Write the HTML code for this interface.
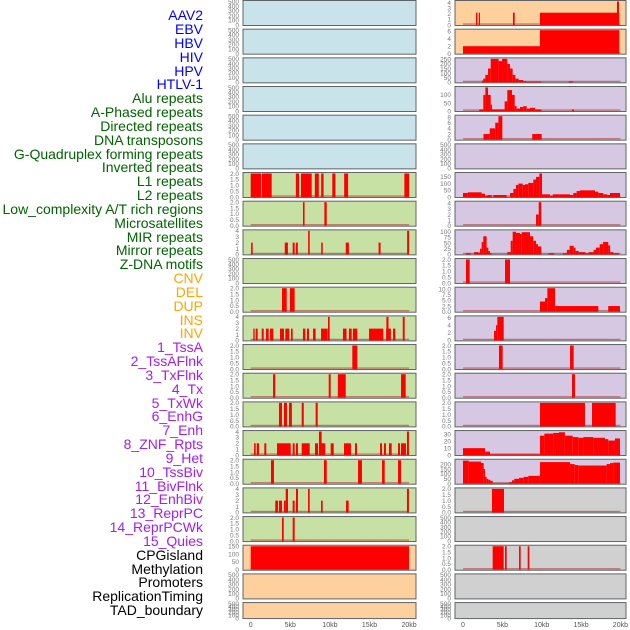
<!DOCTYPE html>
<html><head><meta charset="utf-8"><style>
html,body{margin:0;padding:0;background:#fff;}
svg{display:block;font-family:"Liberation Sans",sans-serif;}
</style></head><body>
<svg id="chart" width="630" height="630" viewBox="0 0 630 630" xmlns="http://www.w3.org/2000/svg">
<g id="labels" font-size="14" text-anchor="end">
<text x="203" y="20" fill="#0000ff">AAV2</text>
<text x="203" y="34" fill="#0000ff">EBV</text>
<text x="203" y="48" fill="#0000ff">HBV</text>
<text x="203" y="62" fill="#0000ff">HIV</text>
<text x="203" y="76" fill="#0000ff">HPV</text>
<text x="203" y="89" fill="#0000ff">HTLV-1</text>
<text x="203" y="103" fill="#006400">Alu repeats</text>
<text x="203" y="117" fill="#006400">A-Phased repeats</text>
<text x="203" y="131" fill="#006400">Directed repeats</text>
<text x="203" y="145" fill="#006400">DNA transposons</text>
<text x="203" y="159" fill="#006400">G-Quadruplex forming repeats</text>
<text x="203" y="172" fill="#006400">Inverted repeats</text>
<text x="203" y="186" fill="#006400">L1 repeats</text>
<text x="203" y="200" fill="#006400">L2 repeats</text>
<text x="203" y="214" fill="#006400">Low_complexity A/T rich regions</text>
<text x="203" y="228" fill="#006400">Microsatellites</text>
<text x="203" y="242" fill="#006400">MIR repeats</text>
<text x="203" y="255" fill="#006400">Mirror repeats</text>
<text x="203" y="269" fill="#006400">Z-DNA motifs</text>
<text x="203" y="283" fill="#ffa500">CNV</text>
<text x="203" y="297" fill="#ffa500">DEL</text>
<text x="203" y="311" fill="#ffa500">DUP</text>
<text x="203" y="325" fill="#ffa500">INS</text>
<text x="203" y="338" fill="#ffa500">INV</text>
<text x="203" y="352" fill="#a020f0">1_TssA</text>
<text x="203" y="366" fill="#a020f0">2_TssAFlnk</text>
<text x="203" y="380" fill="#a020f0">3_TxFlnk</text>
<text x="203" y="394" fill="#a020f0">4_Tx</text>
<text x="203" y="408" fill="#a020f0">5_TxWk</text>
<text x="203" y="421" fill="#a020f0">6_EnhG</text>
<text x="203" y="435" fill="#a020f0">7_Enh</text>
<text x="203" y="449" fill="#a020f0">8_ZNF_Rpts</text>
<text x="203" y="463" fill="#a020f0">9_Het</text>
<text x="203" y="477" fill="#a020f0">10_TssBiv</text>
<text x="203" y="491" fill="#a020f0">11_BivFlnk</text>
<text x="203" y="504" fill="#a020f0">12_EnhBiv</text>
<text x="203" y="518" fill="#a020f0">13_ReprPC</text>
<text x="203" y="532" fill="#a020f0">14_ReprPCWk</text>
<text x="203" y="546" fill="#a020f0">15_Quies</text>
<text x="203" y="560" fill="#000">CPGisland</text>
<text x="203" y="574" fill="#000">Methylation</text>
<text x="203" y="587" fill="#000">Promoters</text>
<text x="203" y="601" fill="#000">ReplicationTiming</text>
<text x="203" y="615" fill="#000">TAD_boundary</text>
</g>
<g id="panels"></g>
</svg>
<script>
// ---- data: segments [startKb, endKb, value] ----
const leftYmax = [500,500,500,500,500,500,2,2,4,500,2,4,2,2,2,4,2,4,2,150,500,500];
const rightYmax = [4.2,6.3,255,146,8.3,500,175,4.2,104,2,10.4,6.2,2,2,2,34,239,2,500,2,500,500];
const tickSets = {
  "500":["0","100","200","300","400","500"],
  "2":["0.0","0.5","1.0","1.5","2.0"],
  "4":["0","1","2","3","4"],
  "4.2":["0","1","2","3","4"],
  "150":["0","50","100","150"],
  "6.3":["0","2","4","6"],
  "6.2":["0","2","4","6"],
  "8.3":["0","2","4","6","8"],
  "255":["0","50","100","150","200","250"],
  "146":["0","50","100"],
  "175":["0","50","100","150"],
  "104":["0","25","50","75","100"],
  "10.4":["0.0","2.5","5.0","7.5","10.0"],
  "34":["0","10","20","30"],
  "239":["0","50","100","150","200"]
};
const xTicks = [0,5,10,15,20];
const xTickLabels = ["0","5kb","10kb","15kb","20kb"];

const L06 = [[0,1.3,2],[1.4,2.65,2],[5.7,6.1,2],[6.35,7.7,2],[8.1,8.6,2],[8.9,9.2,2],[10.3,10.7,2],[11.8,12.3,2],[19.4,20,2]];
const L07 = [[6.6,6.8,2],[9.3,9.6,2]];
const L08 = [[0.05,0.25,2],[4.3,4.7,2],[5.3,5.55,2],[5.7,5.95,2],[7.25,7.45,4],[8.9,9.1,2],[12.0,12.4,2],[16.15,16.4,2],[19.75,20,4]];
const L10 = [[3.95,4.55,2],[4.95,5.55,2]];
const L11 = [[0.33,0.5,2],[0.63,0.88,2],[1.39,1.64,2],[1.93,2.27,2],[2.44,2.86,2],[3.7,4.2,2],[4.37,4.88,2],[5.09,5.3,2],[6.6,6.9,2],[7.1,7.36,2],[7.87,8.2,2],[8.88,9.72,2],[9.76,9.97,4],[11.65,12.1,2],[12.4,12.75,2],[12.9,13.46,2],[14.94,16.75,2],[17.1,17.7,2],[17.13,17.4,4],[17.97,18.26,2],[19.2,19.44,4]];
const L12 = [[12.83,13.46,2]];
const L13 = [[2.82,3.1,2],[9.85,10.1,2],[11.0,12.0,2],[18.98,19.57,2]];
const L14 = [[3.57,3.95,2],[4.2,4.58,2],[4.84,5.2,2],[6.44,6.7,2],[8.2,8.46,2]];
const L15 = [[0.42,0.63,2],[0.76,1.05,2],[1.72,1.97,2],[3.32,5.05,2],[5.3,5.55,2],[5.72,5.97,2],[6.44,7.45,2],[8.12,8.5,2],[8.88,9.42,2],[8.62,8.96,4],[10.1,10.48,2],[11.78,12.66,2],[13.17,13.42,2],[16.33,16.58,2],[16.83,17.08,2],[17.46,17.8,2],[18.6,18.85,2],[18.98,19.6,2],[19.73,19.98,4]];
const L16 = [[2.56,2.94,2],[9.25,9.6,2],[13.55,14.05,2],[16.58,16.92,2],[18.6,18.98,2]];
const L17 = [[3.1,3.45,2],[3.57,3.95,2],[4.2,4.42,2],[4.42,4.71,4],[5.3,5.55,2],[5.72,5.97,4],[7.24,7.45,4],[8.88,9.09,2],[12.03,12.37,2],[19.73,19.98,4]];
const L18 = [[3.95,4.17,2],[5.3,5.55,2]];
const L19 = [[0,20,150]];
const leftData = [[],[],[],[],[],[],L06,L07,L08,[],L10,L11,L12,L13,L14,L15,L16,L17,L18,L19,[],[]];

const R00 = [[1.65,1.83,2.2],[2.0,2.16,2.2],[6.35,6.57,2.2],[9.78,19.86,2.2],[19.57,19.82,4.2]];
const R01 = [[0,9.78,2],[9.78,19.86,6.3]];
const R02 = [[2.41,2.58,20],[2.58,2.84,40],[2.84,3.18,80],[3.18,3.52,150],[3.52,4.53,255],[4.53,4.96,230],[4.96,5.63,255],[5.63,5.97,200],[5.97,6.31,150],[6.31,6.65,80],[6.65,7.07,40],[7.07,7.66,25],[7.66,8.0,15],[8.0,9.95,8],[13.43,14.0,10]];
const R03 = [[2.06,2.58,10],[2.58,2.84,100],[2.84,3.18,146],[3.18,3.52,100],[3.52,3.69,40],[3.69,5.29,10],[5.29,5.63,60],[5.63,6.23,130],[6.23,6.57,100],[6.57,6.82,30],[6.82,7.24,15],[7.24,7.66,25],[7.66,8.09,30],[8.09,8.51,15],[8.51,9.15,20],[9.15,9.95,10],[13.85,14.1,10]];
const R04 = [[2.6,3.4,2],[3.4,4.1,4],[4.1,4.5,6],[4.5,5.0,8.3],[8.8,10.0,2]];
const R06 = [[0,0.6,30],[0.6,2.37,35],[2.37,2.8,25],[2.8,3.09,10],[3.09,3.64,15],[3.85,5.55,15],[5.97,6.4,30],[6.4,6.73,60],[6.73,7.03,90],[7.03,7.58,100],[7.58,7.88,90],[7.88,8.3,95],[8.3,8.93,105],[8.93,9.28,130],[9.28,9.7,150],[9.7,10.04,175],[10.04,11.05,20],[11.05,11.4,10],[11.4,13.6,20],[13.6,14.02,15],[14.02,14.44,30],[14.44,14.87,45],[14.87,16.77,50],[16.77,17.2,40],[17.2,17.83,30],[17.83,18.34,20],[18.34,18.68,15],[18.68,19.95,30]];
const R07 = [[9.28,9.62,2],[9.62,9.95,4.2]];
const R08 = [[0.38,0.98,5],[1.4,1.95,10],[1.95,2.16,8],[2.16,2.37,25],[2.37,2.58,55],[2.58,3.0,80],[3.0,3.22,30],[3.22,3.43,15],[3.43,3.64,5],[5.63,6.06,10],[6.06,6.31,60],[6.31,6.73,100],[6.73,7.24,95],[7.24,7.45,90],[7.45,8.51,98],[8.51,8.93,80],[8.93,9.28,60],[9.28,9.53,45],[9.53,9.95,35],[10.85,11.58,5],[12.7,13.2,5],[13.2,13.55,20],[13.55,14.06,38],[14.06,14.3,30],[14.3,14.7,15],[14.7,15.55,10],[15.55,15.97,5],[15.97,16.6,10],[16.6,16.9,20],[16.9,17.37,30],[17.37,17.8,45],[17.8,18.46,55],[18.46,18.7,40],[18.7,19.1,10],[19.1,19.83,5]];
const R09 = [[0.38,0.85,2],[5.34,5.97,2]];
const R10 = [[9.78,10.42,4.5],[10.42,10.72,6],[10.72,11.7,10.4],[11.7,17.2,2.5],[18.45,19.95,2.5]];
const R11 = [[3.94,4.19,2.5],[4.19,4.36,4],[4.36,5.17,6.2]];
const R12 = [[4.57,5.04,2],[13.6,14.06,2]];
const R13 = [[13.85,14.23,2]];
const R14 = [[9.78,15.5,2],[16.39,19.4,2]];
const R15 = [[0,2.8,10],[2.8,3.43,5],[3.43,9.78,1],[9.78,10.34,28],[10.34,11.47,31],[11.47,12.2,32],[12.2,12.95,33],[12.95,13.94,28],[13.94,14.65,26],[14.65,15.3,25],[15.3,16.56,26],[16.56,18.04,25],[18.04,18.46,23],[18.46,19.31,21],[19.31,19.95,24]];
const R16 = [[0,0.72,235],[0.72,2.29,225],[2.29,2.63,210],[2.63,2.8,150],[2.8,3.01,70],[3.01,3.22,50],[3.22,3.47,40],[3.47,3.77,30],[3.77,5.85,5],[5.85,6.23,15],[6.23,6.52,35],[6.52,7.12,50],[7.12,7.71,60],[7.71,8.3,70],[8.3,9.78,80],[9.78,13.6,220],[13.6,14.19,200],[14.19,14.65,190],[14.65,18.25,185],[18.25,18.68,200],[18.68,19.1,210],[19.1,19.95,215]];
const R17 = [[3.68,5.21,2]];
const R19 = [[3.77,5.17,2],[5.34,5.55,2],[7.12,7.33,2],[8.22,8.43,2]];
const rightData = [R00,R01,R02,R03,R04,[],R06,R07,R08,R09,R10,R11,R12,R13,R14,R15,R16,R17,[],R19,[],[]];

// ---- drawing ----
const NS = "http://www.w3.org/2000/svg";
const g = document.getElementById("panels");
function mk(tag, attrs, parent){
  const e = document.createElementNS(NS, tag);
  for (const k in attrs) e.setAttribute(k, attrs[k]);
  (parent||g).appendChild(e);
  return e;
}
const cols = [
  {left:243, right:416, x0:250.7, pxPerKb:7.92, data:leftData, ymax:leftYmax, side:"left"},
  {left:455, right:626, x0:463, pxPerKb:7.87, data:rightData, ymax:rightYmax, side:"right"}
];
function bgColor(side,i){
  if (side==="left") return i<6 ? "#c9e3eb" : (i<19 ? "#c7e0a3" : "#fdd09e");
  return i<2 ? "#fdd09e" : (i<17 ? "#d6c7e3" : "#d0d0d0");
}
for (const c of cols){
  const xScale = kb => c.x0 + kb*c.pxPerKb;
  for (let i=0;i<22;i++){
    const top = 0.5 + i*28.67;
    const h = i===21 ? 16 : 25;
    const pg = mk("g", {});
    
    
    const bg = mk("rect", {x:c.left, y:top, width:c.right-c.left, height:h, fill:bgColor(c.side,i), stroke:"#5f6466", "stroke-width":1}, pg);
    
    
    const pTop = top+1, pBot = top+h-0.5, ph = pBot-pTop;
    const ymax = c.ymax[i];
    const yScale = v => pBot - v/ymax*ph;
    const segs = c.data[i];
    if (segs.length){
      const base = mk("rect", {x:xScale(0), y:pBot-1.6, width:xScale(20)-xScale(0), height:1.3, fill:"#b03030", opacity:0.6}, pg);
      
      
    }
    for (const s of segs){
      const x1 = xScale(s[0]), x2 = xScale(s[1]);
      const b = mk("rect", {x:x1, y:yScale(s[2]), width:Math.max(1.2,x2-x1), height:pBot-yScale(s[2]), fill:"#ff0000"}, pg);
      
      
    }
    const labels = tickSets[String(ymax)] || [];
    labels.forEach((lab) => {
      const v = parseFloat(lab);
      const t = mk("text", {x:c.left-4, y:yScale(v)+2.3, "font-size":6.5, fill:"#777", "text-anchor":"end"}, pg);
      t.textContent = lab;
      
      
    });
  }
  xTicks.forEach((kb, j) => {
    const t = mk("text", {x:xScale(kb), y:627, "font-size":7, fill:"#555", "text-anchor":"middle"});
    t.textContent = xTickLabels[j];
    
    
  });
}
</script>
</body></html>
